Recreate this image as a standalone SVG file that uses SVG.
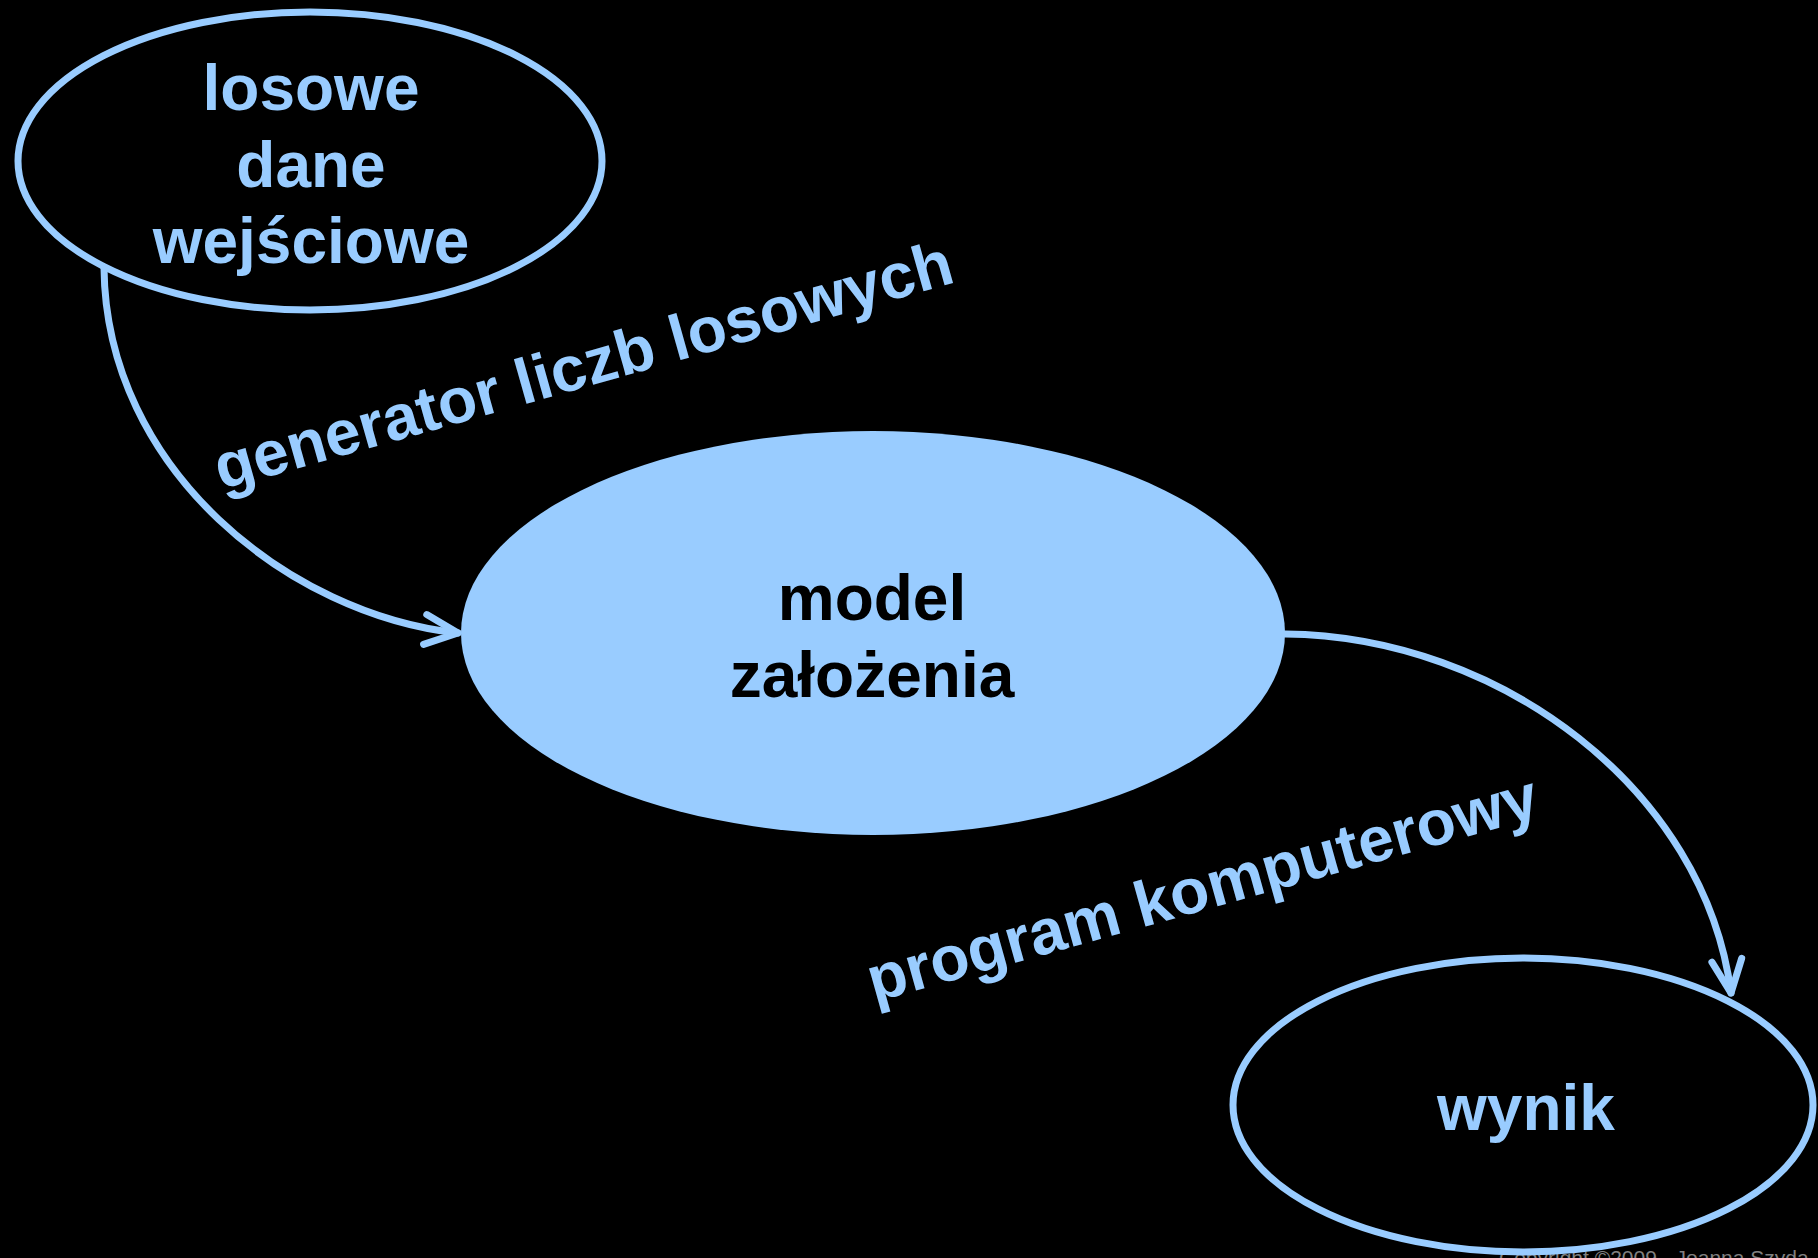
<svg xmlns="http://www.w3.org/2000/svg" width="1818" height="1258" viewBox="0 0 1818 1258">
  <defs>
    <style>
      .bg { fill: #000000; }
      .outline { fill: #000000; stroke: #99CCFF; stroke-width: 7; }
      .filled { fill: #99CCFF; stroke: none; }
      .conn { fill: none; stroke: #99CCFF; stroke-width: 7; stroke-linecap: round; }
      .t { font-family: "Liberation Sans", Arial, sans-serif; font-weight: bold; font-size: 64px; text-anchor: middle; }
      .blue { fill: #99CCFF; }
      .dark { fill: #000000; }
      .copy { font-family: "Liberation Sans", Arial, sans-serif; font-size: 21px; fill: #808080; }
    </style>
    <marker id="arrow" markerUnits="userSpaceOnUse" markerWidth="44" markerHeight="44" viewBox="-40 -22 44 44" refX="0" refY="0" orient="auto">
      <path d="M -33,-15 L 0,0 L -33,15" fill="none" stroke="#99CCFF" stroke-width="7" stroke-linecap="round" stroke-linejoin="round"/>
    </marker>
  </defs>
  <rect class="bg" x="0" y="0" width="1818" height="1258"/>
  <text class="copy" x="1499" y="1265">Copyright ©2009 - Joanna Szyda</text>

  <g id="connectors">
    <path id="edge-generator" class="conn" d="M 104,268 C 106,470 290,615 458,633" marker-end="url(#arrow)"/>
    <path id="edge-program" class="conn" d="M 1285,634 C 1500,636 1705,790 1731,993" marker-end="url(#arrow)"/>
    <text class="t blue" transform="translate(589,386) rotate(-15.8)">generator liczb losowych</text>
    <text class="t blue" transform="translate(1208,909) rotate(-15.6)">program komputerowy</text>
  </g>

  <g id="node-losowe">
    <ellipse class="outline" cx="310" cy="161" rx="292" ry="149"/>
    <text class="t blue" x="311" y="110">losowe</text>
    <text class="t blue" x="311" y="187">dane</text>
    <text class="t blue" x="311" y="263">wejściowe</text>
  </g>

  <g id="node-model">
    <ellipse class="filled" cx="873" cy="633" rx="412" ry="202"/>
    <text class="t dark" x="872" y="620">model</text>
    <text class="t dark" x="872" y="697">założenia</text>
  </g>

  <g id="node-wynik">
    <ellipse class="outline" cx="1523" cy="1105" rx="290" ry="147"/>
    <text class="t blue" x="1526" y="1130">wynik</text>
  </g>
</svg>
